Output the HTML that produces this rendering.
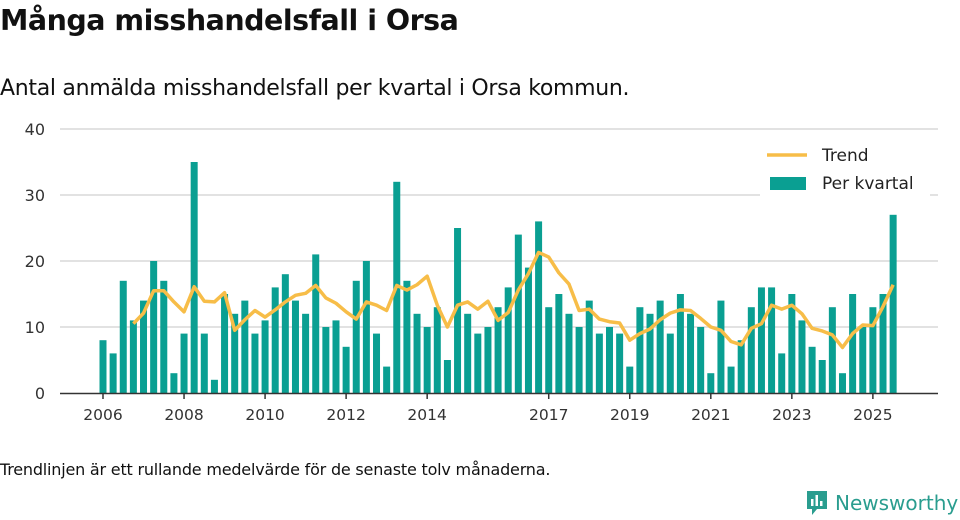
<!DOCTYPE html>
<html><head><meta charset="utf-8"><style>
body{margin:0;width:960px;height:520px;background:#fff;font-family:"Liberation Sans","DejaVu Sans",sans-serif;color:#111;position:relative;overflow:hidden}
#title{position:absolute;left:0;top:4px;font-size:28.5px;font-weight:bold;margin:0;font-family:"DejaVu Sans",sans-serif;letter-spacing:-0.5px}
#sub{position:absolute;left:0;top:76px;font-size:22px;font-family:"DejaVu Sans",sans-serif;letter-spacing:-0.3px}
#foot{position:absolute;left:0;top:460px;font-size:16px;font-family:"DejaVu Sans",sans-serif;letter-spacing:-0.2px}
#logo{position:absolute;left:805px;top:489px;font-size:20px;color:#2a9d8f;font-family:"DejaVu Sans",sans-serif;display:flex;align-items:center;gap:6px}
svg text{font-family:"DejaVu Sans",sans-serif}
</style></head><body>
<h1 id="title">Många misshandelsfall i Orsa</h1>
<div id="sub">Antal anmälda misshandelsfall per kvartal i Orsa kommun.</div>
<svg id="chart" width="960" height="440" style="position:absolute;left:0;top:0"></svg>
<div id="foot">Trendlinjen är ett rullande medelvärde för de senaste tolv månaderna.</div>
<div id="logo"><svg width="24" height="28" viewBox="0 0 24 28"><path d="M2 2h20v18H12l-5 6v-6H2z" fill="#2a9d8f"/><rect x="6" y="10" width="2.5" height="7" fill="#fff"/><rect x="10.5" y="6" width="2.5" height="11" fill="#fff"/><rect x="15" y="12" width="2.5" height="5" fill="#fff"/></svg><span>Newsworthy</span></div>
<script>
const bars=[8,6,17,11,14,20,17,3,9,35,9,2,15,12,14,9,11,16,18,14,12,21,10,11,7,17,20,9,4,32,17,12,10,13,5,25,12,9,10,13,16,24,19,26,13,15,12,10,14,9,10,9,4,13,12,14,9,15,12,10,3,14,4,8,13,16,16,6,15,11,7,5,13,3,15,10,13,15,27];
const trend=[null,null,null,10.5,12.1,15.5,15.5,13.8,12.3,16.1,13.9,13.8,15.2,9.5,11.1,12.5,11.5,12.6,13.8,14.8,15.1,16.3,14.4,13.6,12.3,11.2,13.8,13.3,12.5,16.3,15.6,16.4,17.7,13.3,10.0,13.3,13.8,12.7,13.9,11.0,12.2,15.6,18.1,21.3,20.6,18.2,16.5,12.5,12.7,11.2,10.8,10.6,8.0,9.0,9.7,11.1,12.1,12.6,12.5,11.3,10.0,9.5,7.8,7.3,9.8,10.5,13.3,12.7,13.3,12.0,9.8,9.4,8.8,6.9,9.0,10.3,10.2,13.1,16.4];
const yTicks=[0,10,20,30,40];
const xLabels=["2006","2008","2010","2012","2014","2017","2019","2021","2023","2025"];
const startYear=2006;
const svg=document.getElementById('chart');const NS='http://www.w3.org/2000/svg';
const x=i=>103+i*10.13;const y=v=>393-v*6.6;
function mk(t,a){const e=document.createElementNS(NS,t);for(const k in a)e.setAttribute(k,a[k]);svg.appendChild(e);return e;}
yTicks.forEach(v=>{
 if(v>0){const g=mk('line',{x1:60,x2:938,y1:y(v),y2:y(v),stroke:'#e2e2e2','stroke-width':2});
 
 }
 const t=mk('text',{x:45,y:y(v)+6,'text-anchor':'end','font-size':16,fill:'#333'});t.textContent=v;
 
 
});
bars.forEach((v,i)=>{const r=mk('rect',{x:x(i)-3.5,y:y(v),width:7,height:v*6.6,fill:'#0a9f92'});
 
 });
const ax=mk('line',{x1:60,x2:938,y1:393.5,y2:393.5,stroke:'#333','stroke-width':1.5});


xLabels.forEach(l=>{const i=(+l-startYear)*4;
 const tk=mk('line',{x1:x(i),x2:x(i),y1:393,y2:399,stroke:'#333','stroke-width':1.5});
 
 
 const t=mk('text',{x:x(i),y:420,'text-anchor':'middle','font-size':15.5,fill:'#333'});t.textContent=l;
 
 });
let d='';trend.forEach((v,i)=>{if(v==null)return;d+=(d?'L':'M')+x(i)+','+y(v);});
const p=mk('path',{d:d,fill:'none',stroke:'#f7bd48','stroke-width':3.5,'stroke-linejoin':'round'});


const lb=mk('rect',{x:760,y:140,width:170,height:58,fill:'#fff'});


const l1=mk('line',{x1:767,x2:807,y1:155,y2:155,stroke:'#f7bd48','stroke-width':3.5});


const t1=mk('text',{x:822,y:161,'font-size':17,fill:'#222'});t1.textContent='Trend';


const r2=mk('rect',{x:770,y:177,width:36,height:13,fill:'#0a9f92'});


const t2=mk('text',{x:822,y:189,'font-size':17,fill:'#222'});t2.textContent='Per kvartal';


</script>
</body></html>
